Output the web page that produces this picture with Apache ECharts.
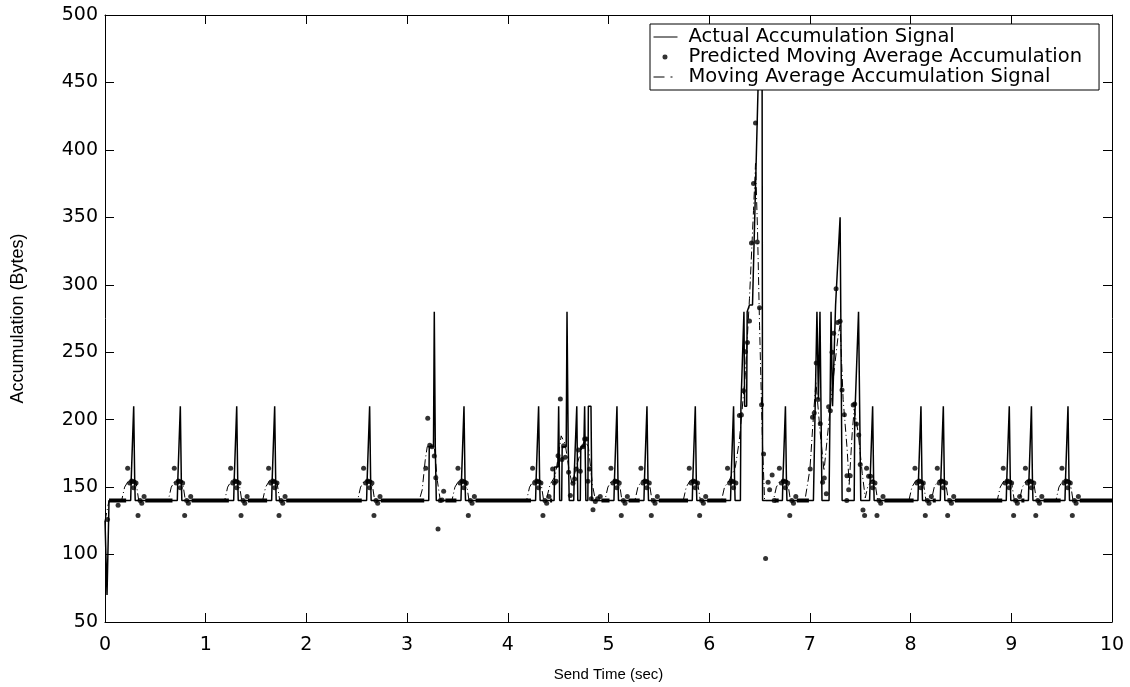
<!DOCTYPE html>
<html>
<head>
<meta charset="utf-8">
<script src="https://cdn.jsdelivr.net/npm/echarts@6/dist/echarts.min.js"></script>
<style>
  html, body { margin: 0; padding: 0; background: #fff; }
  #chart { width: 1130px; height: 687px; }
</style>
</head>
<body>
<div id="chart"></div>
<script>
// time (sec) / accumulation (bytes) pairs
const BASE = 140;

const actualSignal = [
  [0, 125], [0.02, 70], [0.04, 140],
  [0.255, 140], [0.26, 155], [0.277, 155], [0.285, 210], [0.295, 155], [0.30, 140],
  [0.718, 140], [0.723, 155], [0.74, 155], [0.748, 210], [0.758, 155], [0.763, 140],
  [1.278, 140], [1.283, 155], [1.30, 155], [1.308, 210], [1.318, 155], [1.323, 140],
  [1.655, 140], [1.66, 155], [1.677, 155], [1.685, 210], [1.695, 155], [1.70, 140],
  [2.598, 140], [2.603, 155], [2.62, 155], [2.628, 210], [2.638, 155], [2.643, 140],
  [3.215, 140], [3.22, 180], [3.262, 180], [3.27, 280], [3.28, 180], [3.29, 140],
  [3.535, 140], [3.54, 155], [3.557, 155], [3.565, 210], [3.575, 155], [3.58, 140],
  [4.276, 140], [4.281, 155], [4.298, 155], [4.306, 210], [4.316, 155], [4.321, 140],
  [4.46, 140], [4.465, 165], [4.497, 165], [4.505, 210], [4.515, 140], [4.535, 140],
  [4.54, 180], [4.58, 180], [4.588, 280], [4.60, 180], [4.61, 140], [4.655, 140],
  [4.66, 160], [4.677, 160], [4.685, 210], [4.695, 140], [4.72, 140], [4.725, 180],
  [4.755, 180], [4.763, 210], [4.775, 140], [4.795, 140], [4.80, 210], [4.826, 210], [4.835, 140],
  [5.054, 140], [5.059, 155], [5.076, 155], [5.084, 210], [5.094, 155], [5.099, 140],
  [5.352, 140], [5.357, 155], [5.374, 155], [5.382, 210], [5.392, 155], [5.397, 140],
  [5.832, 140], [5.837, 155], [5.854, 155], [5.862, 210], [5.872, 155], [5.877, 140],
  [6.212, 140], [6.217, 155], [6.234, 155], [6.242, 210], [6.252, 155], [6.257, 140],
  [6.31, 140], [6.315, 210], [6.345, 280], [6.352, 210], [6.372, 210], [6.377, 280],
  [6.40, 285], [6.43, 285], [6.49, 460], [6.50, 480], [6.525, 480], [6.53, 140],
  [6.727, 140], [6.732, 155], [6.749, 155], [6.757, 210], [6.767, 155], [6.772, 140],
  [7.035, 140], [7.07, 280], [7.085, 215], [7.10, 280], [7.12, 140], [7.19, 140],
  [7.21, 280], [7.225, 210], [7.255, 285], [7.30, 350], [7.32, 140],
  [7.44, 140], [7.445, 200], [7.483, 280], [7.505, 140],
  [7.593, 140], [7.598, 155], [7.615, 155], [7.623, 210], [7.633, 155], [7.638, 140],
  [8.073, 140], [8.078, 155], [8.095, 155], [8.103, 210], [8.113, 155], [8.118, 140],
  [8.295, 140], [8.30, 155], [8.317, 155], [8.325, 210], [8.335, 155], [8.34, 140],
  [8.95, 140], [8.955, 155], [8.972, 155], [8.98, 210], [8.99, 155], [8.995, 140],
  [9.17, 140], [9.175, 155], [9.192, 155], [9.20, 210], [9.21, 155], [9.215, 140],
  [9.533, 140], [9.538, 155], [9.555, 155], [9.563, 210], [9.573, 155], [9.578, 140],
  [10, 140]
];

const predictedDots = [
  [0.025, 126], [0.13, 136.5],
  [0.225, 164], [0.245, 153], [0.265, 154.5], [0.282, 154], [0.285, 149.5], [0.308, 153], [0.328, 129], [0.348, 140], [0.365, 138], [0.388, 143],
  [0.688, 164], [0.708, 153], [0.728, 154.5], [0.745, 154], [0.748, 149.5], [0.771, 153], [0.791, 129], [0.811, 140], [0.828, 138], [0.851, 143],
  [1.248, 164], [1.268, 153], [1.288, 154.5], [1.305, 154], [1.308, 149.5], [1.331, 153], [1.351, 129], [1.371, 140], [1.388, 138], [1.411, 143],
  [1.625, 164], [1.645, 153], [1.665, 154.5], [1.682, 154], [1.685, 149.5], [1.708, 153], [1.728, 129], [1.748, 140], [1.765, 138], [1.788, 143],
  [2.568, 164], [2.588, 153], [2.608, 154.5], [2.625, 154], [2.628, 149.5], [2.651, 153], [2.671, 129], [2.691, 140], [2.708, 138], [2.731, 143],
  [3.185, 164], [3.205, 201], [3.225, 181], [3.247, 180], [3.27, 173], [3.285, 157], [3.307, 119], [3.33, 140], [3.347, 140.5], [3.363, 147],
  [3.505, 164], [3.525, 153], [3.545, 154.5], [3.562, 154], [3.565, 149.5], [3.588, 153], [3.608, 129], [3.628, 140], [3.645, 138], [3.668, 143],
  [4.246, 164], [4.266, 153], [4.286, 154.5], [4.303, 154], [4.306, 149.5], [4.329, 153], [4.349, 129], [4.369, 140], [4.386, 138], [4.409, 143],
  [4.445, 163.5], [4.462, 153], [4.479, 154.4], [4.499, 173.3], [4.522, 215.3], [4.538, 170.4], [4.554, 180.7],
  [4.571, 172.1], [4.604, 161], [4.621, 143.7], [4.647, 152.9], [4.663, 156.1], [4.68, 163.5], [4.703, 177.5],
  [4.72, 161.8], [4.747, 180], [4.763, 185.7], [4.78, 185.7], [4.796, 154.4], [4.812, 163.5], [4.829, 141.3],
  [4.846, 133.3], [4.869, 139.3], [4.892, 141.3], [4.918, 143],
  [5.024, 164], [5.044, 153], [5.064, 154.5], [5.081, 154], [5.084, 149.5], [5.107, 153], [5.127, 129], [5.147, 140], [5.164, 138], [5.187, 143],
  [5.322, 164], [5.342, 153], [5.362, 154.5], [5.379, 154], [5.382, 149.5], [5.405, 153], [5.425, 129], [5.445, 140], [5.462, 138], [5.485, 143],
  [5.802, 164], [5.822, 153], [5.842, 154.5], [5.859, 154], [5.862, 149.5], [5.885, 153], [5.905, 129], [5.925, 140], [5.942, 138], [5.965, 143],
  [6.182, 164], [6.202, 153], [6.222, 154.5], [6.239, 154], [6.242, 149.5], [6.265, 153],
  [6.30, 203], [6.32, 203.4], [6.34, 221.4], [6.36, 250.3], [6.38, 257.2], [6.40, 273.2], [6.42, 331],
  [6.44, 375], [6.46, 420], [6.477, 331.7], [6.50, 283], [6.52, 211], [6.54, 174.6], [6.56, 97],
  [6.585, 153.6], [6.60, 148], [6.625, 159], [6.645, 140],
  [6.697, 164], [6.717, 153], [6.737, 154.5], [6.754, 154], [6.757, 149.5], [6.78, 153], [6.80, 129], [6.82, 140], [6.837, 138], [6.86, 143],
  [7.003, 163.5], [7.026, 201.7], [7.043, 205], [7.063, 242], [7.08, 215], [7.103, 197], [7.126, 153.6],
  [7.143, 156.8], [7.163, 145], [7.186, 209.6], [7.203, 206.6], [7.22, 250], [7.236, 264], [7.26, 297],
  [7.276, 272], [7.30, 273], [7.319, 222], [7.342, 203.7], [7.366, 140], [7.368, 158.5], [7.385, 148],
  [7.40, 158.5], [7.43, 210.8], [7.445, 211.6], [7.462, 196.8], [7.485, 188.6], [7.50, 166.7], [7.527, 133], [7.543, 129],
  [7.563, 164], [7.583, 158], [7.603, 158], [7.62, 154], [7.623, 149.5], [7.646, 153], [7.666, 129], [7.686, 140], [7.703, 138], [7.726, 143],
  [8.043, 164], [8.063, 153], [8.083, 154.5], [8.10, 154], [8.103, 149.5], [8.126, 153], [8.146, 129], [8.166, 140], [8.183, 138], [8.206, 143],
  [8.265, 164], [8.285, 153], [8.305, 154.5], [8.322, 154], [8.325, 149.5], [8.348, 153], [8.368, 129], [8.388, 140], [8.405, 138], [8.428, 143],
  [8.92, 164], [8.94, 153], [8.96, 154.5], [8.977, 154], [8.98, 149.5], [9.003, 153], [9.023, 129], [9.043, 140], [9.06, 138], [9.083, 143],
  [9.14, 164], [9.16, 153], [9.18, 154.5], [9.197, 154], [9.20, 149.5], [9.223, 153], [9.243, 129], [9.263, 140], [9.28, 138], [9.303, 143],
  [9.503, 164], [9.523, 153], [9.543, 154.5], [9.56, 154], [9.563, 149.5], [9.586, 153], [9.606, 129], [9.626, 140], [9.643, 138], [9.666, 143]
];

// stretches where the predicted dots sit on the 140-byte floor (start, end)
const predictedFlatRuns = [
  [0.04, 0.21], [0.40, 0.67], [0.86, 1.23], [1.42, 1.61], [1.80, 2.55], [2.74, 3.17],
  [3.38, 3.49], [3.68, 4.23], [4.42, 4.44], [4.93, 5.01], [5.20, 5.31], [5.50, 5.79],
  [5.98, 6.17], [6.65, 6.69], [6.87, 6.99], [7.74, 8.03], [8.22, 8.25], [8.44, 8.91],
  [9.10, 9.13], [9.32, 9.49], [9.68, 10]
];

const movingAverage = [
  [0, 125], [0.04, 140],
  [0.165, 140], [0.195, 150], [0.235, 155], [0.305, 155], [0.335, 140],
  [0.628, 140], [0.658, 150], [0.698, 155], [0.768, 155], [0.798, 140],
  [1.188, 140], [1.218, 150], [1.258, 155], [1.328, 155], [1.358, 140],
  [1.565, 140], [1.595, 150], [1.635, 155], [1.705, 155], [1.735, 140],
  [2.508, 140], [2.538, 150], [2.578, 155], [2.648, 155], [2.678, 140],
  [3.12, 140], [3.15, 148], [3.18, 170], [3.20, 180], [3.27, 180], [3.30, 155], [3.33, 140],
  [3.445, 140], [3.475, 150], [3.515, 155], [3.585, 155], [3.615, 140],
  [4.186, 140], [4.216, 150], [4.256, 155], [4.326, 155], [4.356, 140],
  [4.38, 140], [4.42, 152], [4.47, 158], [4.50, 172], [4.53, 188], [4.57, 182], [4.61, 162],
  [4.64, 152], [4.68, 165], [4.72, 175], [4.76, 185], [4.80, 180], [4.84, 152], [4.87, 140],
  [4.964, 140], [4.994, 150], [5.034, 155], [5.104, 155], [5.134, 140],
  [5.262, 140], [5.292, 150], [5.332, 155], [5.402, 155], [5.432, 140],
  [5.742, 140], [5.772, 150], [5.812, 155], [5.882, 155], [5.912, 140],
  [6.122, 140], [6.152, 150], [6.20, 155], [6.26, 165], [6.30, 185], [6.36, 235], [6.40, 290],
  [6.44, 355], [6.46, 390], [6.48, 340], [6.50, 270], [6.53, 180], [6.55, 140],
  [6.637, 140], [6.667, 150], [6.707, 155], [6.777, 155], [6.807, 140],
  [6.95, 140], [7.00, 163], [7.04, 208], [7.06, 228], [7.10, 192], [7.14, 162], [7.20, 207],
  [7.24, 236], [7.28, 262], [7.30, 270], [7.33, 215], [7.37, 178], [7.39, 152], [7.42, 190],
  [7.44, 208], [7.48, 190], [7.52, 160], [7.55, 142],
  [7.573, 150], [7.613, 155], [7.643, 155], [7.673, 140],
  [7.983, 140], [8.013, 150], [8.053, 155], [8.123, 155], [8.153, 140],
  [8.205, 140], [8.235, 150], [8.275, 155], [8.345, 155], [8.375, 140],
  [8.86, 140], [8.89, 150], [8.93, 155], [9.00, 155], [9.03, 140],
  [9.08, 140], [9.11, 150], [9.15, 155], [9.22, 155], [9.25, 140],
  [9.443, 140], [9.473, 150], [9.513, 155], [9.583, 155], [9.613, 140],
  [10, 140]
];

const xTicks = { min: 0, max: 10, interval: 1 };
const yTicks = { min: 50, max: 500, interval: 50 };

const NAME_ACTUAL = 'Actual Accumulation Signal';
const NAME_PRED = 'Predicted Moving Average Accumulation';
const NAME_MA = 'Moving Average Accumulation Signal';

const WIDE_FONT = '"DejaVu Sans", Verdana, sans-serif';
const FONT = '"Liberation Sans", Arial, Helvetica, sans-serif';

// flat runs become broken line segments
const flatBand = [];
predictedFlatRuns.forEach(r => {
  flatBand.push([r[0], BASE], [r[1], BASE], [r[1], '-']);
});

const chart = echarts.init(document.getElementById('chart'), null, { renderer: 'canvas' });

const boxAxis = {
  axisLine: { show: true, onZero: false, lineStyle: { color: '#000', width: 1 } },
  axisTick: { show: true, inside: true, length: 9, lineStyle: { color: '#000', width: 1 } },
  splitLine: { show: false }
};

const option = {
  backgroundColor: '#fff',
  animation: false,
  grid: { left: 105, top: 15, width: 1007, height: 608, containLabel: false },
  xAxis: [
    Object.assign({
      type: 'value', position: 'bottom',
      min: xTicks.min, max: xTicks.max, interval: xTicks.interval,
      axisLabel: { color: '#000', fontSize: 19, fontFamily: WIDE_FONT, margin: 14 },
      name: 'Send Time (sec)', nameLocation: 'middle', nameGap: 45,
      nameTextStyle: { color: '#000', fontSize: 15, fontFamily: FONT }
    }, boxAxis),
    Object.assign({
      type: 'value', position: 'top',
      min: xTicks.min, max: xTicks.max, interval: xTicks.interval,
      axisLabel: { show: false }
    }, boxAxis)
  ],
  yAxis: [
    Object.assign({
      type: 'value', position: 'left',
      min: yTicks.min, max: yTicks.max, interval: yTicks.interval,
      axisLabel: { color: '#000', fontSize: 19, fontFamily: WIDE_FONT, margin: 7, padding: [5, 0, 0, 0] },
      name: 'Accumulation (Bytes)', nameLocation: 'middle', nameGap: 78,
      nameTextStyle: { color: '#000', fontSize: 18, fontFamily: FONT }
    }, boxAxis),
    Object.assign({
      type: 'value', position: 'right',
      min: yTicks.min, max: yTicks.max, interval: yTicks.interval,
      axisLabel: { show: false }
    }, boxAxis)
  ],
  legend: {
    orient: 'vertical',
    left: 650, top: 24,
    z: 10,
    padding: [3, 17, 3, 3],
    itemGap: 0,
    itemWidth: 24, itemHeight: 10,
    backgroundColor: '#fff',
    borderColor: '#000', borderWidth: 1, borderRadius: 0,
    textStyle: {
      color: '#000', fontSize: 19.5, fontFamily: WIDE_FONT,
      lineHeight: 19, padding: [0, 0, 0, 6]
    },
    data: [
      {
        name: NAME_ACTUAL,
        itemStyle: { color: 'transparent', borderWidth: 0 },
        lineStyle: { color: '#000', width: 1, type: 'solid' }
      },
      {
        name: NAME_PRED,
        icon: 'path://M0,0L0.01,0L0.01,0.01Z M24,10L24.01,10L24.01,10.01Z M14,5A2.5,2.5,0,1,1,9,5A2.5,2.5,0,1,1,14,5Z',
        itemStyle: { color: '#000' }
      },
      {
        name: NAME_MA,
        itemStyle: { color: 'transparent', borderWidth: 0 },
        lineStyle: { color: '#000', width: 1, type: [11, 6, 2, 6] }
      }
    ]
  },
  series: [
    {
      name: 'floor',
      type: 'line',
      data: flatBand,
      symbol: 'none',
      connectNulls: false,
      lineStyle: { color: '#000', width: 4 },
      silent: true,
      z: 1
    },
    {
      name: NAME_MA,
      type: 'line',
      data: movingAverage,
      symbol: 'none',
      lineStyle: { color: '#000', width: 1, type: [8, 3, 1, 3] },
      z: 2
    },
    {
      name: NAME_ACTUAL,
      type: 'line',
      data: actualSignal,
      symbol: 'none',
      lineStyle: { color: '#000', width: 1.5 },
      z: 3
    },
    {
      name: NAME_PRED,
      type: 'scatter',
      data: predictedDots,
      symbol: 'circle',
      symbolSize: 5,
      itemStyle: { color: '#000' },
      z: 4
    }
  ]
};

chart.setOption(option);
</script>
</body>
</html>
